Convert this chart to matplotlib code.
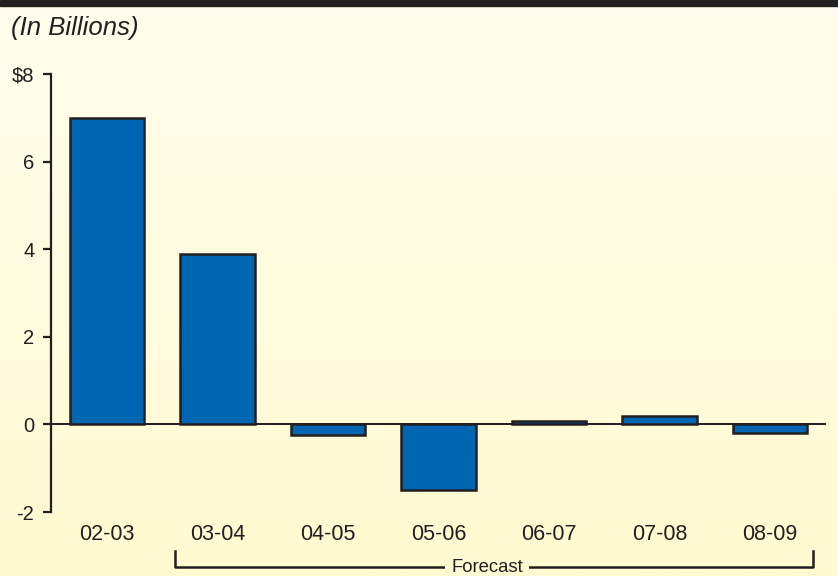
import numpy as np
import matplotlib.pyplot as plt
from matplotlib.patches import Rectangle
from matplotlib.colors import LinearSegmentedColormap

plt.rcParams['font.family'] = ['Liberation Sans', 'DejaVu Sans']

years = ['02-03', '03-04', '04-05', '05-06', '06-07', '07-08', '08-09']
values = [7.0, 3.9, -0.25, -1.5, 0.07, 0.2, -0.2]
yticks = [-2, 0, 2, 4, 6, 8]
ytick_labels = ['-2', '0', '2', '4', '6', '$8']

ink = '#231f20'
bar_blue = '#0066b1'

fig = plt.figure(figsize=(8.38, 5.76), dpi=100)

# background gradient, pale at top, more yellow lower down
bg = fig.add_axes([0, 0, 1, 1], zorder=-10)
cmap = LinearSegmentedColormap.from_list('bg', ['#fffad0', '#fffdee'])
grad = np.linspace(0, 1, 256).reshape(-1, 1)
bg.imshow(grad, aspect='auto', cmap=cmap, origin='lower', extent=[0, 1, 0, 1])
bg.set_xlim(0, 1)
bg.set_ylim(0, 1)
bg.axis('off')

# black strip at top
fig.patches.append(Rectangle((0, 1 - 6 / 576), 1, 6 / 576, transform=fig.transFigure,
                             color=ink, zorder=5))

fig.text(11 / 838, 1 - 28 / 576, '(In Billions)', fontsize=18.5, style='italic',
         color=ink, va='center', ha='left')

ax = fig.add_axes([51 / 838, 64 / 576, 775 / 838, 438 / 576])
ax.patch.set_alpha(0)
x = np.arange(len(years))
ax.bar(x, values, width=0.675, color=bar_blue, edgecolor=ink, linewidth=1.8, zorder=3)
ax.axhline(0, color=ink, linewidth=1.4, zorder=2)

ax.set_xlim(-0.507, 6.507)
ax.set_ylim(-2, 8)
for s in ['top', 'right', 'bottom']:
    ax.spines[s].set_visible(False)
ax.spines['left'].set_color(ink)
ax.spines['left'].set_linewidth(1.6)
ax.spines['left'].set_bounds(-2, 8)

ax.set_yticks(yticks)
ax.set_yticklabels(ytick_labels)
ax.set_xticks(x)
ax.set_xticklabels(years)
ax.tick_params(axis='y', length=6, width=1.6, color=ink, labelcolor=ink,
               labelsize=14.5, pad=6)
ax.tick_params(axis='x', length=0, labelcolor=ink, labelsize=15.5, pad=9)

# forecast bracket under 03-04 .. 08-09
yb = 1 - 567 / 576
ytop = 1 - 551 / 576
x0, x1 = 175 / 838, 813 / 838
fig.add_artist(plt.Line2D([x0, x0, x1, x1], [ytop, yb, yb, ytop],
                          transform=fig.transFigure, color=ink, linewidth=1.8))
fig.text(487 / 838, yb - 1 / 576, 'Forecast', fontsize=13.3, color=ink, ha='center',
         va='center', bbox=dict(boxstyle='square,pad=0.35', fc='#fffad2', ec='none'))

fig.savefig('out.png', dpi=100)
